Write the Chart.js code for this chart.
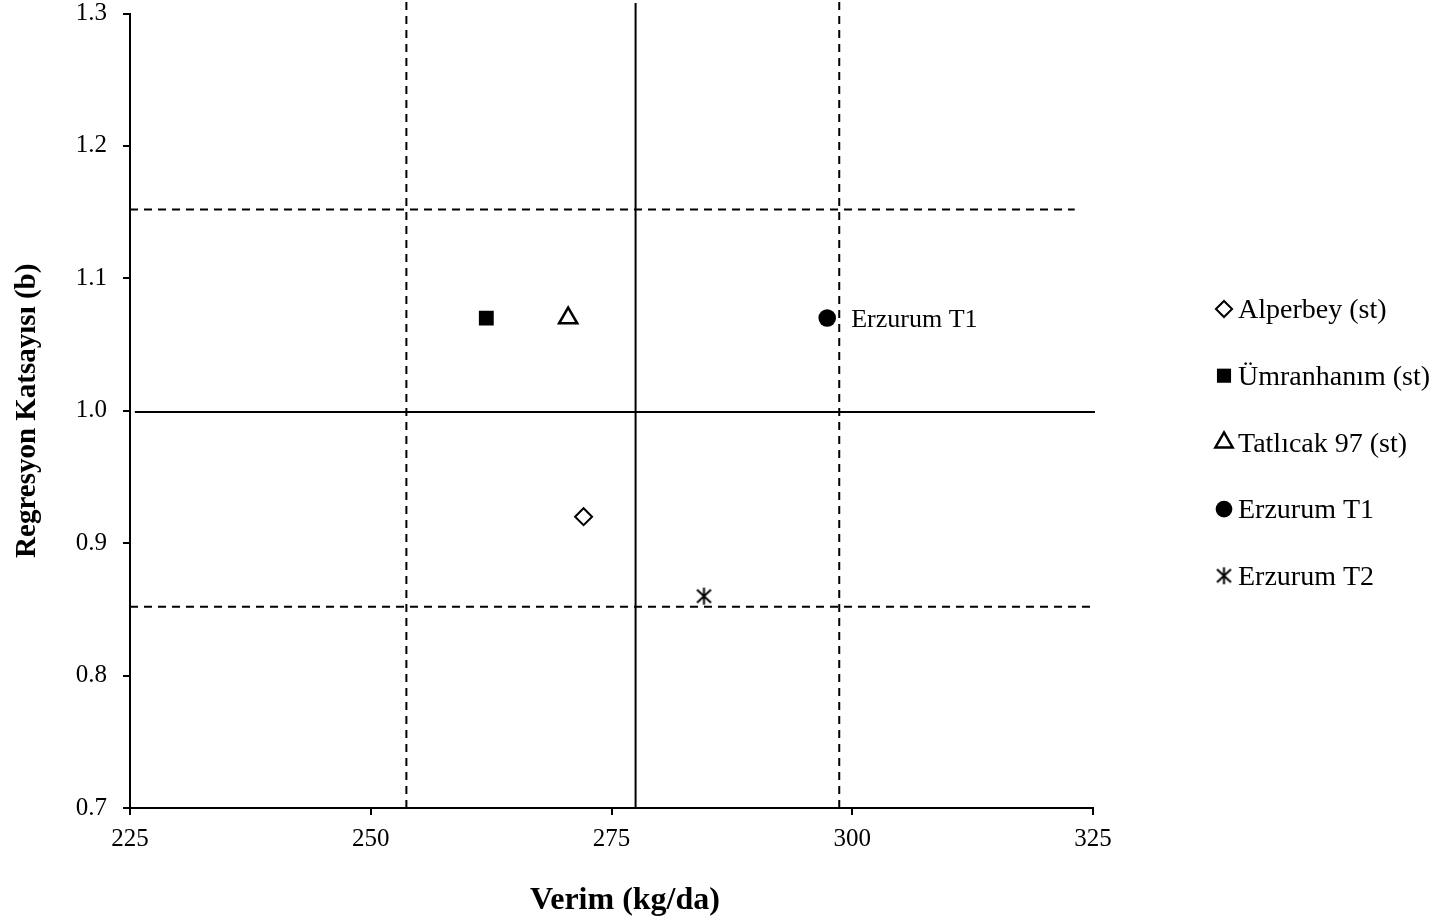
<!DOCTYPE html>
<html>
<head>
<meta charset="utf-8">
<script src="https://cdn.jsdelivr.net/npm/chart.js@4.4.1/dist/chart.umd.min.js"></script>
<style>
  html, body { margin: 0; padding: 0; background: #fff; }
  #wrap { width: 1448px; height: 924px; }
</style>
</head>
<body>
<div id="wrap"><canvas id="chart"></canvas></div>
<script>
// genotypes: yield (kg/da) vs regression coefficient (b)
const genotypes = ["Alperbey (st)", "Ümranhanım (st)", "Tatlıcak 97 (st)", "Erzurum T1", "Erzurum T2"];
const yieldValues = [272.1, 262.0, 270.5, 297.4, 284.6];
const bValues = [0.92, 1.07, 1.07, 1.07, 0.86];

const xTicks = [225, 250, 275, 300, 325];
const yTicks = [0.7, 0.8, 0.9, 1.0, 1.1, 1.2, 1.3];

// reference lines (mean yield, b = 1, and confidence limits)
const vLinesX = [253.7, 277.5, 298.65];
const vLinesTop = [1.31, 1.308, 1.31];
const hLinesY = [1.152, 0.999, 0.852];
const hLinesStart = [225, 225.5, 225];
const hLinesEnd = [323.1, 325.2, 324.7];

const FONT = "'Liberation Serif', 'Times New Roman', serif";
Chart.defaults.font.family = FONT;
Chart.defaults.color = "#000";

function asteriskCanvas() {
  const c = document.createElement("canvas");
  c.width = 19; c.height = 19;
  const g = c.getContext("2d");
  g.strokeStyle = "#000";
  g.lineWidth = 2;
  g.beginPath();
  g.moveTo(9.5, 1); g.lineTo(9.5, 18);
  g.moveTo(2.5, 3); g.lineTo(16.5, 16);
  g.moveTo(16.5, 3); g.lineTo(2.5, 16);
  g.stroke();
  return c;
}

const markers = [
  { pointStyle: "rectRot", pointRadius: 8.5, backgroundColor: "#fff", borderColor: "#000", borderWidth: 2 },
  { pointStyle: "rect", pointRadius: 10.5, backgroundColor: "#000", borderColor: "#000", borderWidth: 0 },
  { pointStyle: "triangle", pointRadius: 10.5, backgroundColor: "#fff", borderColor: "#000", borderWidth: 2.5 },
  { pointStyle: "circle", pointRadius: 8.8, backgroundColor: "#000", borderColor: "#000", borderWidth: 0 },
  { pointStyle: asteriskCanvas(), pointRadius: 9, backgroundColor: "#000", borderColor: "#000", borderWidth: 0 }
];

const pointSets = genotypes.map((name, i) => Object.assign({
  label: name,
  data: [{ x: yieldValues[i], y: bValues[i] }],
  pointHoverRadius: markers[i].pointRadius
}, markers[i]));

function refLine(points, dashed) {
  return {
    type: "line",
    label: "",
    data: points,
    borderColor: "#000",
    borderWidth: 2,
    borderDash: dashed ? [8, 6] : [],
    pointRadius: 0,
    fill: false,
    clip: false,
    showLine: true
  };
}

const lineSets = [];
vLinesX.forEach((x, i) => {
  lineSets.push(refLine([{ x: x, y: 0.7 }, { x: x, y: vLinesTop[i] }], i !== 1));
});
hLinesY.forEach((y, i) => {
  lineSets.push(refLine([{ x: hLinesStart[i], y: y }, { x: hLinesEnd[i], y: y }], i !== 1));
});

const overlay = {
  id: "overlay",
  afterDatasetsDraw(chart) {
    const ctx = chart.ctx;
    ctx.save();
    ctx.fillStyle = "#000";
    ctx.textBaseline = "middle";

    // label beside Erzurum T1
    const p = chart.getDatasetMeta(3).data[0];
    ctx.font = "26px " + FONT;
    ctx.fillText(genotypes[3], p.x + 24, p.y + 2);

    // legend
    ctx.font = "28px " + FONT;
    const drawPoint = Chart.helpers && Chart.helpers.drawPoint;
    pointSets.forEach((ds, i) => {
      const y = 309 + i * 66.7;
      if (drawPoint) {
        ctx.fillStyle = ds.backgroundColor;
        ctx.strokeStyle = ds.borderColor;
        ctx.lineWidth = ds.borderWidth;
        drawPoint(ctx, { pointStyle: ds.pointStyle, radius: ds.pointRadius * 0.95, borderWidth: ds.borderWidth, rotation: 0 }, 1224, y);
      }
      ctx.fillStyle = "#000";
      ctx.fillText(ds.label, 1238, y + 2);
    });

    // x axis title, centred as in the original
    ctx.font = "bold 32px " + FONT;
    ctx.textAlign = "center";
    ctx.textBaseline = "alphabetic";
    ctx.fillText("Verim (kg/da)", 625, 909);
    ctx.restore();
  }
};

new Chart(document.getElementById("chart"), {
  type: "scatter",
  data: { datasets: pointSets.concat(lineSets) },
  options: {
    responsive: true,
    maintainAspectRatio: false,
    animation: false,
    events: [],
    layout: { padding: { top: 13.5, right: 355, left: 0, bottom: 0 } },
    plugins: { legend: { display: false }, tooltip: { enabled: false } },
    scales: {
      x: {
        type: "linear",
        min: 225, max: 325,
        afterBuildTicks: s => { s.ticks = xTicks.map(v => ({ value: v })); },
        afterFit: s => { s.height = 116; s.paddingLeft = 0; s.paddingRight = 0; },
        ticks: { font: { size: 25 }, padding: 9, maxRotation: 0 },
        grid: { drawOnChartArea: false, drawTicks: true, tickLength: 7, color: "#000", lineWidth: 2 },
        border: { color: "#000", width: 2 },
        title: { display: false, text: "Verim (kg/da)" }
      },
      y: {
        type: "linear",
        min: 0.7, max: 1.3,
        afterBuildTicks: s => { s.ticks = yTicks.map(v => ({ value: v })); },
        afterFit: s => { s.width = 130; s.paddingTop = 0; s.paddingBottom = 0; },
        ticks: { font: { size: 25 }, padding: 16, callback: v => Number(v).toFixed(1) },
        grid: { drawOnChartArea: false, drawTicks: true, tickLength: 7, color: "#000", lineWidth: 2 },
        border: { color: "#000", width: 2 },
        title: { display: true, text: "Regresyon Katsayısı (b)", font: { size: 29, weight: "bold" }, padding: { top: 10, bottom: 0 } }
      }
    }
  },
  plugins: [overlay]
});
</script>
</body>
</html>
